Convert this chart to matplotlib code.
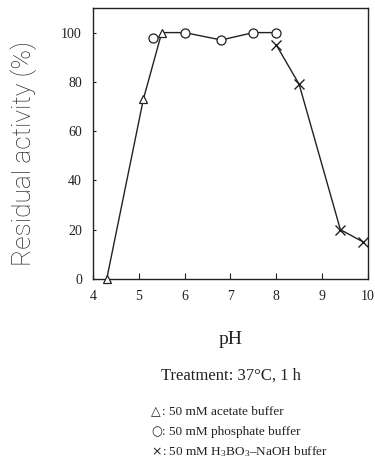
import matplotlib
matplotlib.use("Agg")
import matplotlib.pyplot as plt

# Data
acetate_ph = [4.3, 5.1, 5.5]
acetate_act = [0, 73, 100]
phosphate_ph = [5.3, 6.0, 6.8, 7.5, 8.0]
phosphate_act = [98, 100, 97, 100, 100]
borate_ph = [8.0, 8.5, 9.4, 9.9]
borate_act = [95, 79, 20, 15]
x_ticks = [4, 5, 6, 7, 8, 9, 10]
y_ticks = [0, 20, 40, 60, 80, 100]

plt.rcParams['mathtext.fontset'] = 'custom'
plt.rcParams['mathtext.rm'] = 'Liberation Serif'
plt.rcParams['mathtext.it'] = 'Liberation Serif:italic'

fig = plt.figure(figsize=(3.75, 4.68), dpi=100)
ax = fig.add_axes([0.248, 0.404, 0.733, 0.579])

lc = '#222222'
# connecting line: acetate then phosphate (from pH 6 onward)
line_x = acetate_ph + phosphate_ph[1:]
line_y = acetate_act + phosphate_act[1:]
ax.plot(line_x, line_y, color=lc, lw=1.0, zorder=2)
ax.plot(borate_ph, borate_act, color=lc, lw=1.0, zorder=2)

ax.plot(acetate_ph, acetate_act, linestyle='none', marker='^', ms=6,
        mfc='white', mec=lc, mew=0.9, zorder=3, clip_on=False)
ax.plot(phosphate_ph, phosphate_act, linestyle='none', marker='o', ms=6.5,
        mfc='white', mec=lc, mew=0.9, zorder=3, clip_on=False)
ax.plot(borate_ph, borate_act, linestyle='none', marker='x', ms=6.5,
        mec=lc, mew=1.0, zorder=3, clip_on=False)

ax.set_xlim(4, 10)
ax.set_ylim(0, 110)
ax.set_xticks(x_ticks)
ax.set_yticks(y_ticks)
ax.tick_params(axis='x', direction='in', length=4, width=0.8, colors=lc,
               labelsize=10, pad=8)
ax.tick_params(axis='y', direction='in', length=2, width=0.8, colors=lc,
               labelsize=10, pad=8)
for lab in ax.get_xticklabels() + ax.get_yticklabels():
    lab.set_fontfamily('Liberation Serif')
    lab.set_color('#222222')
for s in ax.spines.values():
    s.set_color('#222222')
    s.set_linewidth(1.0)

ax.set_xlabel('pH', fontfamily='Liberation Serif', fontsize=14, color='#222222',
              labelpad=20)

fig.text(0.062, 0.673, 'Residual activity (%)', rotation=90, ha='center',
         va='center', fontsize=19, fontfamily='Roboto', fontweight='light',
         color='#2a2a2a')

fig.text(0.616, 0.197, 'Treatment: 37°C, 1 h', ha='center', va='center',
         fontfamily='Liberation Serif', fontsize=12, color='#222222')

leg_sym_x = 0.403
leg_x = 0.433
leg_y = [0.12, 0.077, 0.034]
leg_syms = ['△', '○', '×']
leg_texts = [': 50 mM acetate buffer', ': 50 mM phosphate buffer',
             ': 50 mM H$_3$BO$_3$–NaOH buffer']
for yy, sym, txt in zip(leg_y, leg_syms, leg_texts):
    fig.text(leg_sym_x, yy, sym, ha='left', va='center',
             fontfamily='DejaVu Sans', fontsize=9, color='#222222')
    fig.text(leg_x, yy, txt, ha='left', va='center',
             fontfamily='Liberation Serif', fontsize=9.5, color='#222222')

fig.savefig('out.png', dpi=100)
